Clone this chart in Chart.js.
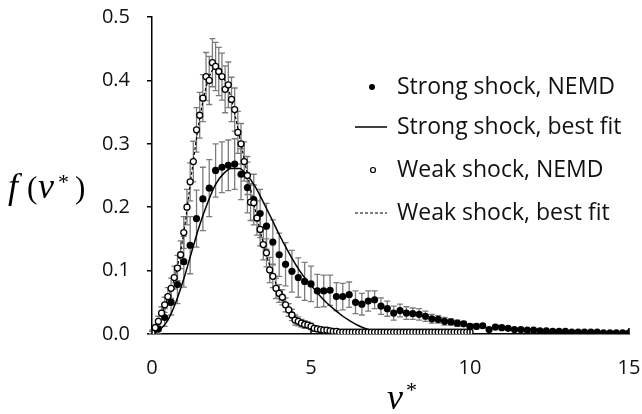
<!DOCTYPE html>
<html lang="en">
<head>
<meta charset="UTF-8">
<title>Velocity distribution</title>
<style>
  html, body { margin: 0; padding: 0; background: #fff; }
  .chartBox { width: 642px; height: 414px; }
</style>
</head>
<body>
<div class="chartBox"><canvas id="myChart" width="642" height="414"></canvas></div>

<script src="https://cdn.jsdelivr.net/npm/chart.js"></script>
<script>
// strong shock, NEMD (filled dots)
const strongX = [
  0, 0.2, 0.4, 0.6, 0.8, 1.0, 1.2, 1.4, 1.6, 1.8,
  2.0, 2.2, 2.4, 2.6, 2.8, 3.0, 3.2, 3.4, 3.6, 3.8,
  4.0, 4.2, 4.4, 4.6, 4.8, 5.0, 5.2, 5.4, 5.6, 5.8,
  6.0, 6.2, 6.4, 6.6, 6.8, 7.0, 7.2, 7.4, 7.6, 7.8,
  8.0, 8.2, 8.4, 8.6, 8.8, 9.0, 9.2, 9.4, 9.6, 9.8,
  10.0, 10.2, 10.4, 10.6, 10.8, 11.0, 11.2, 11.4, 11.6, 11.8,
  12.0, 12.2, 12.4, 12.6, 12.8, 13.0, 13.2, 13.4, 13.6, 13.8,
  14.0, 14.2, 14.4, 14.6, 14.8, 15.0
];
const strongY = [
  0.003, 0.008, 0.026, 0.050, 0.078, 0.114, 0.140, 0.182, 0.213, 0.230,
  0.258, 0.263, 0.266, 0.268, 0.252, 0.231, 0.212, 0.190, 0.170, 0.145,
  0.125, 0.110, 0.099, 0.089, 0.083, 0.079, 0.068, 0.068, 0.069, 0.059,
  0.059, 0.062, 0.050, 0.047, 0.052, 0.054, 0.044, 0.040, 0.033, 0.037,
  0.033, 0.032, 0.031, 0.028, 0.024, 0.023, 0.020, 0.019, 0.017, 0.016,
  0.012, 0.012, 0.013, 0.007, 0.011, 0.010, 0.009, 0.007, 0.007, 0.006,
  0.006, 0.005, 0.005, 0.004, 0.004, 0.004, 0.003, 0.003, 0.003, 0.003,
  0.003, 0.002, 0.002, 0.002, 0.002, 0.002
];
const strongErr = [
  0.003, 0.008, 0.014, 0.020, 0.030, 0.040, 0.045, 0.045, 0.050, 0.045,
  0.042, 0.040, 0.040, 0.040, 0.040, 0.040, 0.040, 0.038, 0.036, 0.035,
  0.034, 0.034, 0.033, 0.031, 0.030, 0.028, 0.026, 0.025, 0.024, 0.022,
  0.021, 0.020, 0.018, 0.017, 0.016, 0.014, 0.013, 0.012, 0.011, 0.010,
  0.010, 0.009, 0.009, 0.008, 0.007, 0.006, 0.006, 0.005, 0.005, 0.004,
  0.004, 0.004, 0.003, 0.003, 0.003, 0.002, 0.002, 0.002, 0.002, 0.002,
  0, 0, 0, 0, 0, 0, 0, 0, 0, 0,
  0, 0, 0, 0, 0, 0
];

// weak shock, NEMD (open circles)
const weakX = [
  0, 0.1, 0.2, 0.3, 0.4, 0.5, 0.6, 0.7, 0.8, 0.9,
  1.0, 1.1, 1.2, 1.3, 1.4, 1.5, 1.6, 1.7, 1.8, 1.9,
  2.0, 2.1, 2.2, 2.3, 2.4, 2.5, 2.6, 2.7, 2.8, 2.9,
  3.0, 3.1, 3.2, 3.3, 3.4, 3.5, 3.6, 3.7, 3.8, 3.9,
  4.0, 4.1, 4.2, 4.3, 4.4, 4.5, 4.6, 4.7, 4.8, 4.9,
  5.0, 5.1, 5.2, 5.3, 5.4, 5.5, 5.6, 5.7, 5.8, 5.9,
  6.0, 6.1, 6.2, 6.3, 6.4, 6.5, 6.6, 6.7, 6.8, 6.9,
  7.0, 7.1, 7.2, 7.3, 7.4, 7.5, 7.6, 7.7, 7.8, 7.9,
  8.0, 8.1, 8.2, 8.3, 8.4, 8.5, 8.6, 8.7, 8.8, 8.9,
  9.0, 9.1, 9.2, 9.3, 9.4, 9.5, 9.6, 9.7, 9.8, 9.9,
  10.0
];
const weakY = [
  0.002, 0.010, 0.020, 0.033, 0.046, 0.059, 0.072, 0.089, 0.104, 0.125,
  0.160, 0.200, 0.240, 0.272, 0.322, 0.345, 0.372, 0.406, 0.400, 0.428,
  0.422, 0.414, 0.406, 0.386, 0.393, 0.370, 0.354, 0.318, 0.300, 0.272,
  0.250, 0.208, 0.207, 0.183, 0.165, 0.141, 0.128, 0.101, 0.091, 0.072,
  0.064, 0.058, 0.046, 0.038, 0.030, 0.022, 0.020, 0.017, 0.015, 0.014,
  0.012, 0.009, 0.008, 0.007, 0.006, 0.006, 0.005, 0.004, 0.004, 0.003,
  0.003, 0.003, 0.003, 0.003, 0.003, 0.003, 0.003, 0.003, 0.003, 0.003,
  0.003, 0.003, 0.003, 0.003, 0.003, 0.003, 0.003, 0.003, 0.003, 0.003,
  0.003, 0.003, 0.003, 0.003, 0.003, 0.003, 0.003, 0.003, 0.003, 0.003,
  0.003, 0.003, 0.003, 0.003, 0.003, 0.003, 0.003, 0.003, 0.003, 0.003,
  0.003
];
const weakErr = [
  0.002, 0.005, 0.008, 0.010, 0.012, 0.014, 0.016, 0.018, 0.020, 0.022,
  0.025, 0.028, 0.030, 0.032, 0.035, 0.036, 0.037, 0.038, 0.038, 0.038,
  0.038, 0.038, 0.037, 0.037, 0.036, 0.035, 0.034, 0.033, 0.032, 0.031,
  0.030, 0.029, 0.028, 0.027, 0.026, 0.024, 0.022, 0.020, 0.018, 0.016,
  0.014, 0.012, 0.011, 0.010, 0.009, 0.008, 0.007, 0.006, 0.006, 0.005,
  0.005, 0.004, 0.004, 0.003, 0.003, 0.003, 0.002, 0.002, 0.002, 0.002,
  0, 0, 0, 0, 0, 0, 0, 0, 0, 0,
  0, 0, 0, 0, 0, 0, 0, 0, 0, 0,
  0, 0, 0, 0, 0, 0, 0, 0, 0, 0,
  0, 0, 0, 0, 0, 0, 0, 0, 0, 0,
  0
];

// best fit curves
const strongFitX = [0, 0.25, 0.5, 0.75, 1, 1.25, 1.5, 1.75, 2, 2.25, 2.5, 2.75, 3, 3.25, 3.5, 3.75,
  4, 4.25, 4.5, 4.75, 5, 5.25, 5.5, 5.75, 6, 6.25, 6.5, 6.75, 7, 7.25, 7.5, 8, 10, 12, 15];
const strongFitY = [0, 0.007, 0.022, 0.050, 0.087, 0.130, 0.172, 0.207, 0.236, 0.253, 0.261, 0.261, 0.250, 0.232, 0.208, 0.183,
  0.157, 0.133, 0.111, 0.092, 0.077, 0.062, 0.049, 0.038, 0.028, 0.020, 0.013, 0.008, 0.005, 0.003, 0.001, 0, 0, 0, 0];
const weakFitX = [0, 0.25, 0.5, 0.75, 1, 1.25, 1.5, 1.75, 2, 2.25, 2.5, 2.75, 3, 3.25, 3.5, 3.75,
  4, 4.25, 4.5, 4.75, 5, 5.5, 6, 7, 10];
const weakFitY = [0, 0.026, 0.058, 0.096, 0.160, 0.255, 0.340, 0.398, 0.420, 0.405, 0.370, 0.312, 0.252, 0.195, 0.143, 0.100,
  0.067, 0.043, 0.027, 0.017, 0.010, 0.004, 0.001, 0, 0];

const seriesNames = ['Strong shock, NEMD', 'Strong shock, best fit', 'Weak shock, NEMD', 'Weak shock, best fit'];

const pts = (xs, ys) => xs.map((x, i) => ({ x: x, y: ys[i] }));

const FONT = '"Open Sans"';
const MATH = '"Liberation Serif"';

// grey error bars behind the markers
const errorBars = {
  id: 'errorBars',
  beforeDatasetsDraw(chart) {
    const { ctx, scales: { x, y } } = chart;
    ctx.save();
    ctx.strokeStyle = '#7c7c7c';
    ctx.lineWidth = 1.3;
    chart.data.datasets.forEach(ds => {
      if (!ds.errors) return;
      ds.data.forEach((p, i) => {
        const e = ds.errors[i];
        if (!e || e < 0.002) return;
        const px = x.getPixelForValue(p.x);
        const top = y.getPixelForValue(p.y + e);
        const bot = y.getPixelForValue(Math.max(p.y - e, 0));
        ctx.beginPath();
        ctx.moveTo(px, top); ctx.lineTo(px, bot);
        ctx.moveTo(px - 3, top); ctx.lineTo(px + 3, top);
        ctx.moveTo(px - 3, bot); ctx.lineTo(px + 3, bot);
        ctx.stroke();
      });
    });
    ctx.restore();
  }
};

// legend, axis titles and inward x ticks
const decorations = {
  id: 'decorations',
  afterDraw(chart) {
    const { ctx, scales: { x, y } } = chart;
    ctx.save();

    // x ticks point up into the plot
    ctx.strokeStyle = '#000';
    ctx.lineWidth = 1.5;
    x.ticks.forEach(t => {
      const px = x.getPixelForValue(t.value);
      ctx.beginPath();
      ctx.moveTo(px, y.bottom);
      ctx.lineTo(px, y.bottom - 6);
      ctx.stroke();
    });

    // legend
    const rows = [87, 127, 170, 213];
    ctx.fillStyle = '#111';
    ctx.font = '23px ' + FONT;
    ctx.textBaseline = 'middle';
    ctx.textAlign = 'left';
    seriesNames.forEach((name, i) => ctx.fillText(name, 397, rows[i]));

    ctx.fillStyle = '#000';
    ctx.beginPath();
    ctx.arc(372, rows[0], 3, 0, Math.PI * 2);
    ctx.fill();

    ctx.lineWidth = 1.5;
    ctx.beginPath();
    ctx.moveTo(355, rows[1]); ctx.lineTo(387, rows[1]);
    ctx.stroke();

    ctx.lineWidth = 1.2;
    ctx.fillStyle = '#fff';
    ctx.beginPath();
    ctx.arc(373, rows[2], 2.5, 0, Math.PI * 2);
    ctx.fill();
    ctx.stroke();

    ctx.setLineDash([3, 2]);
    ctx.beginPath();
    ctx.moveTo(355, rows[3]); ctx.lineTo(387, rows[3]);
    ctx.stroke();
    ctx.setLineDash([]);

    // axis titles f(v*) and v*
    ctx.fillStyle = '#000';
    ctx.textBaseline = 'alphabetic';
    const put = (txt, font, px, py) => { ctx.font = font; ctx.fillText(txt, px, py); };
    put('f', 'italic 36px ' + MATH, 8, 198);
    put('(', '31px ' + MATH, 27, 198);
    put('v', 'italic 36px ' + MATH, 38, 198);
    put('*', '22px ' + MATH, 58, 189);
    put(')', '31px ' + MATH, 75, 198);

    put('v', 'italic 36px ' + MATH, 387, 409);
    put('*', '22px ' + MATH, 406, 397);

    ctx.restore();
  }
};

const data = {
  datasets: [{
    label: seriesNames[0],
    data: pts(strongX, strongY),
    errors: strongErr,
    showLine: false,
    pointRadius: 3.6,
    pointBackgroundColor: '#000',
    pointBorderColor: '#000',
    pointBorderWidth: 0,
    order: 1
  }, {
    label: seriesNames[1],
    data: pts(strongFitX, strongFitY),
    showLine: true,
    pointRadius: 0,
    borderColor: '#000',
    borderWidth: 1.5,
    cubicInterpolationMode: 'monotone',
    order: 3
  }, {
    label: seriesNames[2],
    data: pts(weakX, weakY),
    errors: weakErr,
    showLine: false,
    pointRadius: 3,
    pointBackgroundColor: '#fff',
    pointBorderColor: '#000',
    pointBorderWidth: 1.3,
    order: 0
  }, {
    label: seriesNames[3],
    data: pts(weakFitX, weakFitY),
    showLine: true,
    pointRadius: 0,
    borderColor: '#000',
    borderWidth: 1.2,
    borderDash: [3, 2],
    cubicInterpolationMode: 'monotone',
    order: 2
  }]
};

const config = {
  type: 'scatter',
  data,
  options: {
    responsive: false,
    animation: false,
    events: [],
    layout: { padding: { top: 17, right: 13, left: 0, bottom: 0 } },
    plugins: { legend: { display: false }, tooltip: { enabled: false } },
    scales: {
      x: {
        type: 'linear',
        min: 0,
        max: 15,
        afterFit: s => { s.height = 80; s.paddingLeft = 0; s.paddingRight = 0; },
        ticks: { stepSize: 5, padding: 22, color: '#111', font: { family: FONT, size: 20 } },
        grid: { display: false, drawTicks: false },
        border: { display: true, color: '#000', width: 1.5 }
      },
      y: {
        type: 'linear',
        min: 0,
        max: 0.5,
        afterFit: s => { s.width = 152; s.paddingTop = 0; s.paddingBottom = 0; },
        ticks: {
          stepSize: 0.1,
          padding: 17,
          color: '#111',
          font: { family: FONT, size: 20 },
          callback: v => v.toFixed(1)
        },
        grid: { drawOnChartArea: false, drawTicks: true, tickLength: 5, color: '#000', lineWidth: 1.5 },
        border: { display: true, color: '#000', width: 1.5 }
      }
    }
  },
  plugins: [errorBars, decorations]
};

const myChart = new Chart(document.getElementById('myChart'), config);
</script>
</body>
</html>
